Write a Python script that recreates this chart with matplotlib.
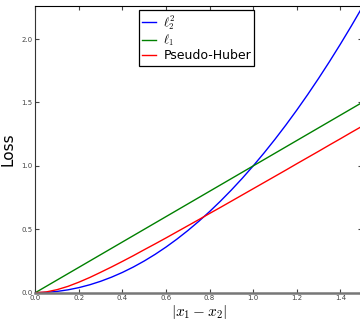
import matplotlib
matplotlib.use("Agg")
import matplotlib.pyplot as plt

plt.rcParams.update({
    "mathtext.fontset": "cm",
    "xtick.direction": "in",
    "ytick.direction": "in",
    "xtick.top": True,
    "ytick.right": True,
    "xtick.labelsize": 5,
    "ytick.labelsize": 5,
    "xtick.color": "#444",
    "ytick.color": "#444",
    "xtick.major.size": 3,
    "ytick.major.size": 3,
})

# values at steps of 0.05
x = [0.00, 0.05, 0.10, 0.15, 0.20, 0.25, 0.30, 0.35, 0.40, 0.45, 0.50,
     0.55, 0.60, 0.65, 0.70, 0.75, 0.80, 0.85, 0.90, 0.95, 1.00,
     1.05, 1.10, 1.15, 1.20, 1.25, 1.30, 1.35, 1.40, 1.45, 1.50]
l2_sq = [0.0, 0.0025, 0.01, 0.0225, 0.04, 0.0625, 0.09, 0.1225, 0.16, 0.2025, 0.25,
         0.3025, 0.36, 0.4225, 0.49, 0.5625, 0.64, 0.7225, 0.81, 0.9025, 1.0,
         1.1025, 1.21, 1.3225, 1.44, 1.5625, 1.69, 1.8225, 1.96, 2.1025, 2.25]
l1 = [0.00, 0.05, 0.10, 0.15, 0.20, 0.25, 0.30, 0.35, 0.40, 0.45, 0.50,
      0.55, 0.60, 0.65, 0.70, 0.75, 0.80, 0.85, 0.90, 0.95, 1.00,
      1.05, 1.10, 1.15, 1.20, 1.25, 1.30, 1.35, 1.40, 1.45, 1.50]
pseudo_huber = [0.0, 0.006, 0.024, 0.050, 0.083, 0.120, 0.161, 0.203, 0.247, 0.292, 0.339,
                0.385, 0.432, 0.480, 0.528, 0.576, 0.625, 0.673, 0.722, 0.771, 0.820,
                0.869, 0.918, 0.967, 1.017, 1.066, 1.115, 1.165, 1.214, 1.264, 1.313]

fig = plt.figure(figsize=(3.6, 3.22), dpi=100)
ax = fig.add_axes([0.098, 0.091, 0.908, 0.89])

ax.plot(x, l2_sq, color="#0000ff", lw=1.0, label=r"$\ell_2^2$")
ax.plot(x, l1, color="#008000", lw=1.0, label=r"$\ell_1$")
ax.plot(x, pseudo_huber, color="#ff0000", lw=1.0, label="Pseudo-Huber")

ax.set_xlim(0, 1.5)
ax.set_ylim(0, 2.26)
ax.set_xticks([0.0, 0.2, 0.4, 0.6, 0.8, 1.0, 1.2, 1.4])
ax.set_yticks([0.0, 0.5, 1.0, 1.5, 2.0])
ax.tick_params(pad=2)

ax.spines["bottom"].set_color("#777")
ax.spines["bottom"].set_linewidth(1.8)
ax.spines["left"].set_color("#333")

ax.set_xlabel(r"$|x_1 - x_2|$", fontsize=11, labelpad=1)
ax.set_ylabel("Loss", fontsize=11, labelpad=4)

leg = ax.legend(loc="upper left", bbox_to_anchor=(0.317, 0.985), borderaxespad=0,
                fontsize=9, fancybox=False, edgecolor="black", framealpha=1,
                handlelength=1.1, handletextpad=0.6, labelspacing=0.1,
                borderpad=0.25)
leg.get_frame().set_linewidth(0.9)

fig.savefig("out.png", dpi=100)
